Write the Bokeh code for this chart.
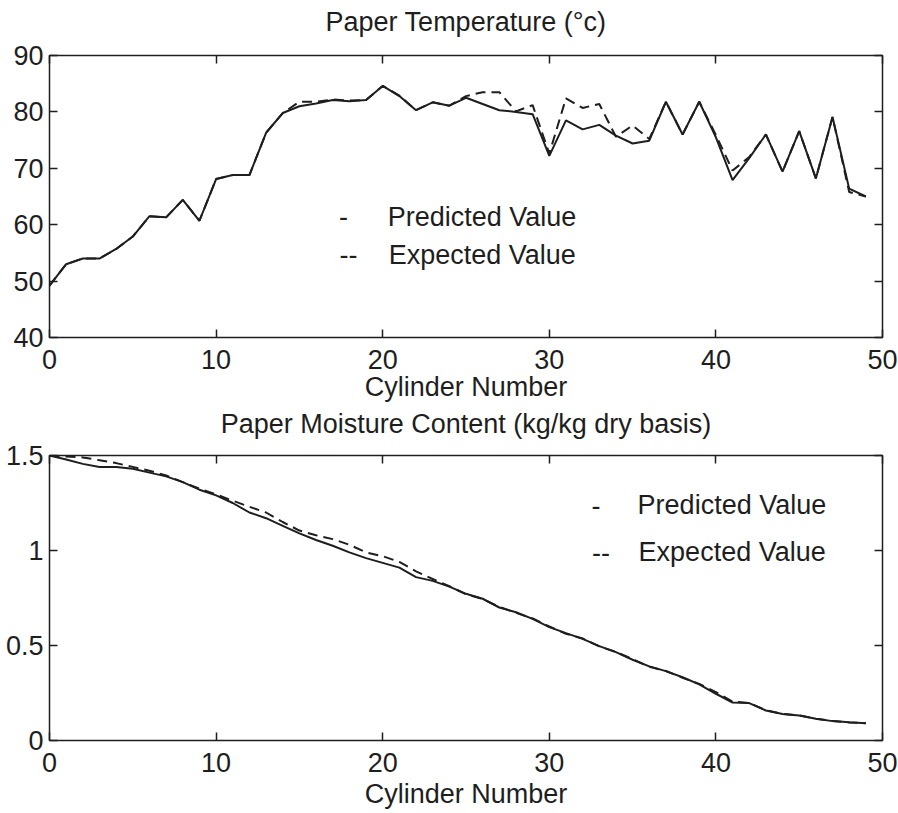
from bokeh.plotting import figure
from bokeh.models import Range1d, LinearAxis, FixedTicker, Label
from bokeh.layouts import column
from bokeh.embed import file_html
from bokeh.resources import INLINE

# ---------------- data ----------------
cylinders = list(range(50))

temp_predicted = [49.2, 53.0, 54.0, 54.0, 55.7, 57.9, 61.5, 61.3, 64.4, 60.7,
                  68.1, 68.8, 68.8, 76.3, 79.8, 81.0, 81.5, 82.1, 81.9, 82.1,
                  84.6, 82.8, 80.3, 81.7, 81.1, 82.5, 81.4, 80.3, 80.0, 79.6,
                  72.2, 78.5, 76.9, 77.7, 75.8, 74.4, 74.9, 81.8, 76.0, 81.8,
                  75.5, 67.9, 71.8, 76.0, 69.4, 76.6, 68.2, 79.1, 66.4, 65.0]

temp_expected = [49.2, 53.0, 54.0, 54.0, 55.7, 57.9, 61.5, 61.3, 64.4, 60.7,
                 68.1, 68.8, 68.8, 76.3, 79.8, 81.8, 81.8, 82.2, 82.0, 82.1,
                 84.6, 82.9, 80.3, 81.7, 81.1, 82.8, 83.5, 83.5, 80.1, 81.2,
                 72.6, 82.4, 80.7, 81.4, 75.6, 77.6, 75.2, 81.8, 76.0, 81.8,
                 75.9, 69.6, 72.0, 76.0, 69.4, 76.6, 68.2, 79.1, 65.8, 65.0]

moist_predicted = [1.500, 1.479, 1.456, 1.440, 1.440, 1.430, 1.410, 1.390, 1.360, 1.320,
                   1.290, 1.250, 1.200, 1.170, 1.130, 1.090, 1.055, 1.025, 0.990, 0.960,
                   0.935, 0.910, 0.860, 0.840, 0.810, 0.772, 0.746, 0.700, 0.675, 0.640,
                   0.597, 0.565, 0.535, 0.497, 0.465, 0.425, 0.390, 0.365, 0.333, 0.295,
                   0.246, 0.200, 0.197, 0.158, 0.140, 0.132, 0.114, 0.102, 0.096, 0.091]

moist_expected = [1.500, 1.495, 1.490, 1.475, 1.460, 1.440, 1.420, 1.395, 1.360, 1.325,
                  1.295, 1.262, 1.230, 1.200, 1.150, 1.105, 1.080, 1.060, 1.030, 0.990,
                  0.970, 0.940, 0.890, 0.850, 0.812, 0.770, 0.745, 0.703, 0.672, 0.642,
                  0.600, 0.562, 0.537, 0.495, 0.466, 0.428, 0.388, 0.366, 0.330, 0.298,
                  0.255, 0.205, 0.197, 0.160, 0.140, 0.132, 0.115, 0.102, 0.095, 0.091]

x_ticks = [0, 10, 20, 30, 40, 50]
temp_ticks = [40, 50, 60, 70, 80, 90]
moist_ticks = [0, 0.5, 1, 1.5]
moist_tick_labels = ["0", "0.5", "1", "1.5"]

temp_title = "Paper Temperature (\u00b0c)"
moist_title = "Paper Moisture Content (kg/kg dry basis)"
x_label = "Cylinder Number"
legend_names = ["Predicted Value", "Expected Value"]
legend_marks = ["-", "--"]

# ---------------- style ----------------
FONT = "Liberation Sans"
FS = "27px"
INK = "#1e1e1e"
DASH = "10 6"


def style_axis(ax, ticks, labels=True, standoff=12):
    ax.ticker = FixedTicker(ticks=ticks)
    ax.axis_line_color = None
    ax.major_tick_in = 8
    ax.major_tick_out = 0
    ax.major_tick_line_color = INK
    ax.major_tick_line_width = 1.5
    ax.minor_tick_line_color = None
    ax.major_label_standoff = standoff
    ax.axis_label_text_font = FONT
    ax.axis_label_text_font_size = FS
    ax.axis_label_text_font_style = "normal"
    ax.axis_label_text_color = INK
    if labels:
        ax.major_label_text_font = FONT
        ax.major_label_text_font_size = FS
        ax.major_label_text_color = INK
    else:
        ax.major_label_text_font_size = "0px"
        ax.major_label_overrides = {t: "" for t in ticks}


def text_label(p, x, y, text, align="left"):
    p.add_layout(Label(x=x, y=y, text=text, text_font=FONT, text_font_size=FS,
                       text_color=INK, text_align=align, text_baseline="middle"))


def make_fig(height, top, bottom, title, title_gap, label_gap, yr, yticks, ylabels=None):
    p = figure(width=898, height=height, x_range=Range1d(0, 50), y_range=Range1d(*yr),
               output_backend="svg", toolbar_location=None,
               min_border_left=49, min_border_right=16,
               min_border_top=top, min_border_bottom=bottom)
    p.background_fill_color = "white"
    p.border_fill_color = "white"
    p.outline_line_color = INK
    p.outline_line_width = 1.5
    p.grid.visible = False

    style_axis(p.xaxis[0], x_ticks, standoff=12)
    p.xaxis[0].axis_label = x_label
    p.xaxis[0].axis_label_standoff = label_gap

    style_axis(p.yaxis[0], yticks, standoff=6)
    if ylabels is not None:
        p.yaxis[0].major_label_overrides = dict(zip(yticks, ylabels))

    # top edge: inward ticks, with the chart title set above the box
    top_ax = LinearAxis()
    style_axis(top_ax, x_ticks, labels=False, standoff=0)
    top_ax.axis_label = title
    top_ax.axis_label_standoff = title_gap
    p.add_layout(top_ax, "above")

    # right edge: inward ticks only
    right_ax = LinearAxis()
    style_axis(right_ax, yticks, labels=False, standoff=0)
    p.add_layout(right_ax, "right")
    return p


def add_legend(p, xm, xt, y1, y2):
    for mark, name, y, dx in zip(legend_marks, legend_names, [y1, y2], [0.0, 0.3]):
        text_label(p, xm + dx, y, mark, align="center")
        text_label(p, xt + dx * 0.2, y, name)


# ---------------- top: temperature ----------------
p1 = make_fig(404, 55, 66, temp_title, 19, 0, (40, 90), temp_ticks)
p1.line(cylinders, temp_expected, line_color=INK, line_width=2, line_dash=DASH)
p1.line(cylinders, temp_predicted, line_color=INK, line_width=2)
add_legend(p1, 17.65, 20.3, 61.4, 54.7)

# ---------------- bottom: moisture ----------------
p2 = make_fig(409, 51, 73, moist_title, 17, 4, (0, 1.5), moist_ticks, moist_tick_labels)
p2.line(cylinders, moist_expected, line_color=INK, line_width=2, line_dash=DASH)
p2.line(cylinders, moist_predicted, line_color=INK, line_width=2)
add_legend(p2, 32.8, 35.3, 1.237, 0.99)

layout = column(p1, p2)
open("out.html", "w").write(file_html(layout, INLINE))
